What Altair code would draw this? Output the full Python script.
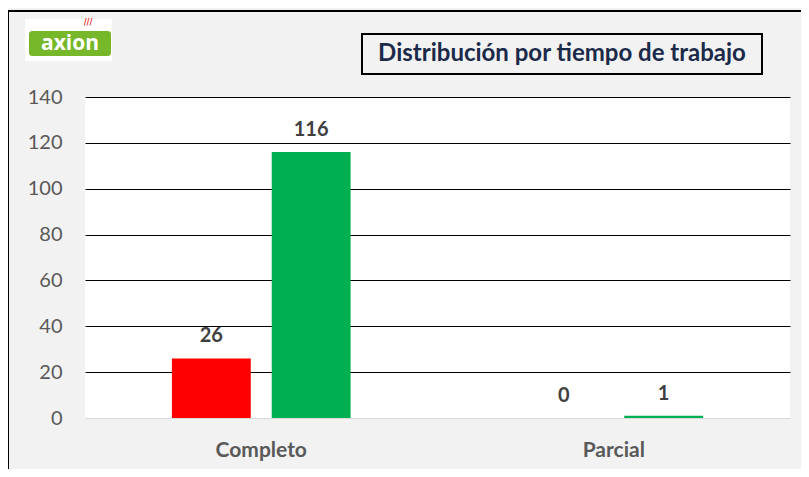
import altair as alt
import pandas as pd

categories = ["Completo", "Completo", "Parcial", "Parcial"]
series = ["A", "B", "A", "B"]
values = [26, 116, 0, 1]
y_ticks = [0, 20, 40, 60, 80, 100, 120, 140]
title_text = "Distribución por tiempo de trabajo"

df = pd.DataFrame({"cat": categories, "serie": series, "val": values})
one = pd.DataFrame({"k": [0]})
FONT = "Lato"

x_enc = alt.X("cat:N", sort=["Completo", "Parcial"],
              scale=alt.Scale(paddingInner=0.493, paddingOuter=0.2465),
              axis=alt.Axis(title=None, labelAngle=0, domain=False, ticks=False,
                            labelPadding=21, labelFontSize=21, labelFontWeight="bold",
                            labelColor="#595959", labelFont=FONT))
xo_enc = alt.XOffset("serie:N", scale=alt.Scale(paddingInner=0.21, paddingOuter=0))
y_enc = alt.Y("val:Q", scale=alt.Scale(domain=[0, 140], nice=False),
              axis=alt.Axis(title=None, values=y_ticks, domain=False, ticks=False,
                            labelPadding=23, labelFontSize=20, labelColor="#595959",
                            labelFont=FONT,
                            gridColor={"condition": {"test": "datum.value === 0", "value": "#d9d9d9"}, "value": "#000000"},
                            gridWidth=1.2))

bars = alt.Chart(df).mark_bar().encode(
    x=x_enc, xOffset=xo_enc, y=y_enc,
    color=alt.Color("serie:N", scale=alt.Scale(domain=["A", "B"], range=["#ff0000", "#00b050"]), legend=None),
)
labels = alt.Chart(df).mark_text(dy=-16, baseline="alphabetic", fontSize=20, fontWeight="bold",
                                 color="#404040", font=FONT).encode(
    x=alt.X("cat:N", sort=["Completo", "Parcial"]), xOffset="serie:N", y="val:Q", text="val:Q")

border = alt.Chart(one).mark_rect(fill=None, stroke="#000000", strokeWidth=2).encode(
    x=alt.value(-77), x2=alt.value(760), y=alt.value(-86), y2=alt.value(420))
title_box = alt.Chart(one).mark_rect(fill="#f2f2f2", stroke="#000000", strokeWidth=2).encode(
    x=alt.value(277), x2=alt.value(677), y=alt.value(-63), y2=alt.value(-23))
title = alt.Chart(one).mark_text(text=title_text, fontSize=24, fontWeight="bold",
                                 color="#1c2a4a", font=FONT, align="center", baseline="middle").encode(
    x=alt.value(477), y=alt.value(-43))
logo_bg = alt.Chart(one).mark_rect(fill="#ffffff").encode(
    x=alt.value(-60), x2=alt.value(27), y=alt.value(-78), y2=alt.value(-36))
logo_green = alt.Chart(one).mark_rect(fill="#76b82a", cornerRadius=3).encode(
    x=alt.value(-56), x2=alt.value(26), y=alt.value(-66), y2=alt.value(-41))
logo_text = alt.Chart(one).mark_text(text="axion", fontSize=21, fontWeight="bold", color="#ffffff",
                                     font="Open Sans", align="center", baseline="middle").encode(
    x=alt.value(-15), y=alt.value(-53))
logo_red = alt.Chart(one).mark_text(text="///", fontSize=8, fontWeight="bold", color="#e3241b",
                                    font="DejaVu Sans", align="center", baseline="middle").encode(
    x=alt.value(3), y=alt.value(-74))

chart = alt.layer(border, logo_bg, logo_green, logo_text, logo_red, title_box, title, bars, labels).properties(
    width=705, height=321,
    autosize=alt.AutoSizeParams(type="none"),
    padding={"left": 77, "top": 89, "right": 11, "bottom": 51},
    background="#f2f2f2",
).configure_view(fill="#ffffff", stroke=None)

chart.save("out.html", embed_options={"renderer": "svg", "actions": False})
